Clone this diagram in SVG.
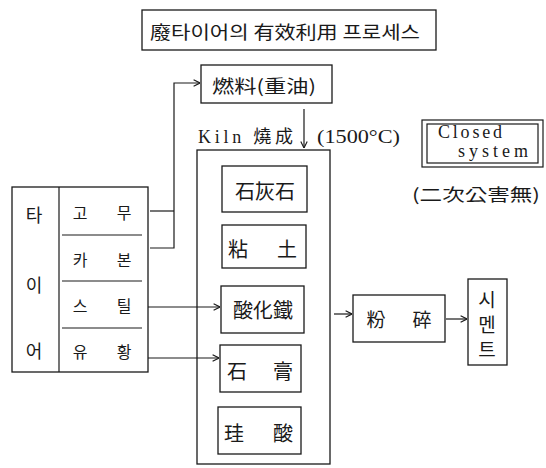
<svg xmlns="http://www.w3.org/2000/svg" width="546" height="468" viewBox="0 0 546 468">
<defs>
<style>
.b{fill:none;stroke:#1a1a1a;stroke-width:1.3}
.c{fill:none;stroke:#1a1a1a;stroke-width:1.2}
.k{font-family:"Noto Sans CJK KR","Noto Sans CJK SC",sans-serif;fill:#1a1a1a;text-anchor:middle;dominant-baseline:central}
.s{font-family:"Liberation Serif",serif;fill:#1a1a1a}
</style>
<marker id="ar" viewBox="0 0 10 10" refX="10" refY="5" markerWidth="8" markerHeight="8" markerUnits="userSpaceOnUse" orient="auto">
<path d="M2,1 L10,5 L2,9" fill="none" stroke="#1a1a1a" stroke-width="1.4"/>
</marker>
</defs>
<rect width="546" height="468" fill="#fff"/>

<g id="title">
<rect class="b" x="142" y="10" width="294" height="40"/>
<text class="k" x="285" y="31" font-size="18" textLength="270" lengthAdjust="spacingAndGlyphs">廢타이어의 有效利用 프로세스</text>
</g>

<g id="fuel">
<rect class="b" x="201" y="65" width="131" height="38"/>
<text class="k" x="264" y="85" font-size="18" textLength="104" lengthAdjust="spacingAndGlyphs">燃料(重油)</text>
</g>

<g id="kiln">
<text class="s" x="198" y="143" font-size="18" textLength="95" lengthAdjust="spacing">Kiln <tspan font-family="Noto Sans CJK KR, sans-serif">燒成</tspan></text>
<text class="s" x="317" y="143" font-size="18" textLength="83" lengthAdjust="spacingAndGlyphs">(1500°C)</text>
<rect class="b" x="197" y="150" width="133" height="314"/>
</g>

<g id="limestone">
<rect class="b" x="222" y="166" width="85" height="46"/>
<text class="k" x="265" y="190" font-size="20">石灰石</text>
</g>
<g id="clay">
<rect class="b" x="222" y="225" width="84" height="43"/>
<text class="k" x="238" y="248" font-size="20">粘</text>
<text class="k" x="287" y="248" font-size="20">土</text>
</g>
<g id="ironoxide">
<rect class="b" x="221" y="286" width="83" height="47"/>
<text class="k" x="263" y="309" font-size="20">酸化鐵</text>
</g>
<g id="gypsum">
<rect class="b" x="220" y="345" width="81" height="47"/>
<text class="k" x="237" y="370" font-size="20">石</text>
<text class="k" x="283" y="370" font-size="20">膏</text>
</g>
<g id="silica">
<rect class="b" x="218" y="407" width="83" height="47"/>
<text class="k" x="234" y="432" font-size="20">珪</text>
<text class="k" x="283" y="432" font-size="20">酸</text>
</g>

<g id="tire">
<rect class="b" x="12" y="187" width="136" height="185"/>
<line class="c" x1="59" y1="187" x2="59" y2="372"/>
<line class="c" x1="62" y1="235" x2="142" y2="235"/>
<line class="c" x1="62" y1="281" x2="142" y2="281"/>
<line class="c" x1="62" y1="328" x2="142" y2="328"/>
<text class="k" x="34" y="214" font-size="18">타</text>
<text class="k" x="34" y="284" font-size="18">이</text>
<text class="k" x="34" y="350" font-size="18">어</text>
<text class="k" x="80" y="212" font-size="16">고</text>
<text class="k" x="124" y="212" font-size="16">무</text>
<text class="k" x="80" y="259" font-size="16">카</text>
<text class="k" x="124" y="259" font-size="16">본</text>
<text class="k" x="80" y="305" font-size="16">스</text>
<text class="k" x="124" y="305" font-size="16">틸</text>
<text class="k" x="80" y="351" font-size="16">유</text>
<text class="k" x="124" y="351" font-size="16">황</text>
</g>

<g id="closed">
<rect class="c" x="422" y="120" width="121" height="47"/>
<rect class="c" x="427" y="124" width="111" height="39"/>
<text class="s" x="438" y="138" font-size="18" textLength="64" lengthAdjust="spacing">Closed</text>
<text class="s" x="458" y="157" font-size="18" textLength="70" lengthAdjust="spacing">system</text>
<text class="k" x="476" y="193" font-size="17" textLength="128" lengthAdjust="spacingAndGlyphs">(二次公害無)</text>
</g>

<g id="grind">
<rect class="b" x="353" y="295" width="92" height="47"/>
<text class="k" x="376" y="318" font-size="19">粉</text>
<text class="k" x="422" y="318" font-size="19">碎</text>
</g>

<g id="cement">
<rect class="b" x="468" y="279" width="39" height="86"/>
<text class="k" x="487" y="298" font-size="19">시</text>
<text class="k" x="487" y="323" font-size="19">멘</text>
<text class="k" x="487" y="348" font-size="19">트</text>
</g>

<g id="connectors">
<polyline class="c" points="150,211 174,211"/>
<polyline class="c" points="150,248 174,248 174,83 200,83" marker-end="url(#ar)"/>
<line class="c" x1="304" y1="109" x2="304" y2="148" marker-end="url(#ar)"/>
<line class="c" x1="148" y1="307" x2="220" y2="307" marker-end="url(#ar)"/>
<line class="c" x1="148" y1="358" x2="219" y2="358" marker-end="url(#ar)"/>
<line class="c" x1="334" y1="314" x2="352" y2="314" marker-end="url(#ar)"/>
<line class="c" x1="446" y1="319" x2="467" y2="319" marker-end="url(#ar)"/>
</g>
</svg>
